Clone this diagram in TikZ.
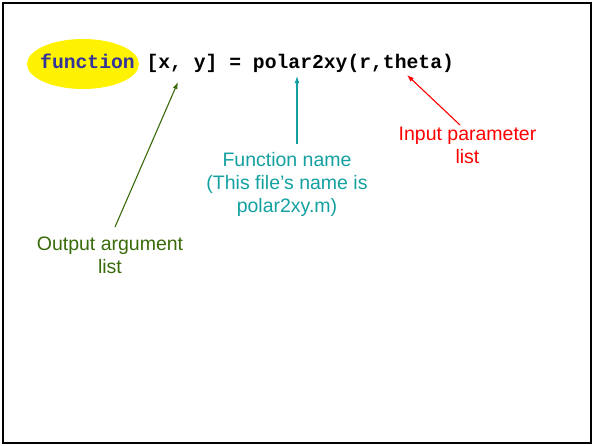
\documentclass[tikz,border=0pt]{standalone}
\usepackage{fontspec}
\setmainfont{Liberation Sans}
\newfontfamily\codefont{Liberation Mono}
\usetikzlibrary{arrows.meta,shapes.geometric}
\definecolor{fnblue}{HTML}{333399}
\definecolor{outgreen}{HTML}{3A6B0A}
\definecolor{fnteal}{HTML}{14A0A0}
\definecolor{inred}{HTML}{FF0000}
\tikzset{
  lbl/.style={align=center, inner sep=0pt, font=\fontsize{19.5}{23}\selectfont},
  arr/.style={line width=1.1pt, -{Latex[length=7pt,width=5pt]}},
}
\begin{document}
\begin{tikzpicture}[x=1pt,y=-1pt]
\useasboundingbox (0,0) rectangle (594,445);
\draw[line width=2.5pt] (3.2,3.2) rectangle (591,443);
\node[ellipse, fill=yellow, minimum width=112pt, minimum height=50pt, inner sep=0pt] (ell) at (83,64) {};
\node[anchor=base west, inner sep=0pt, font=\codefont\bfseries\fontsize{19.7}{22}\selectfont] (code) at (40,68) {\textcolor{fnblue}{function} [x, y] = polar2xy(r,theta)};
\node[lbl, text=outgreen] (out) at (110,255.5) {Output argument\\list};
\node[lbl, text=fnteal] (fname) at (287,184.5) {Function name\\(This file’s name is\\polar2xy.m)};
\node[lbl, text=inred] (inp) at (467.5,145.5) {Input parameter\\list};
\coordinate (outhead) at (178,82);
\coordinate (outtail) at (115,227);
\coordinate (fnhead) at (297,76);
\coordinate (fntail) at (297,144);
\coordinate (inhead) at (407,75);
\coordinate (intail) at (460,125);
\draw[arr, outgreen] (outtail) -- (outhead);
\draw[arr, fnteal] (fntail) -- (fnhead);
\draw[arr, inred] (intail) -- (inhead);
\end{tikzpicture}
\end{document}
